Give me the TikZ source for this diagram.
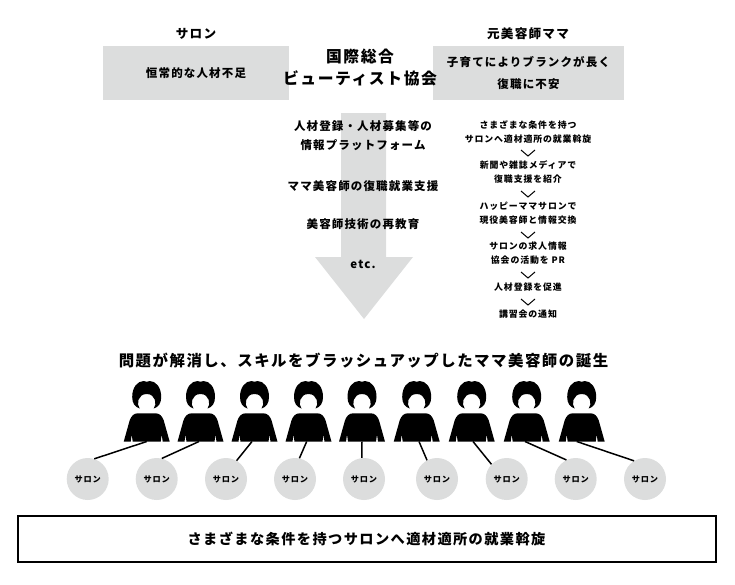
\documentclass[tikz,border=0pt]{standalone}
\usepackage{xcolor}
\usepackage{fontspec}
\setmainfont[LetterSpace=10]{Noto Sans CJK JP}
\definecolor{panelgray}{HTML}{DCDDDD}
\tikzset{
  txt/.style={inner sep=0pt,align=center,font=\bfseries\fontsize{11.5}{19}\selectfont},
  head/.style={inner sep=0pt,font=\bfseries\fontsize{12.6}{14}\selectfont},
  small/.style={inner sep=0pt,align=center,font=\bfseries\fontsize{8.9}{14}\selectfont},
  panel/.style={fill=panelgray,inner sep=0pt,align=center,font=\bfseries\fontsize{11.5}{22}\selectfont},
  salon/.style={circle,fill=panelgray,minimum size=42pt,inner sep=0pt,font=\bfseries\fontsize{8.2}{10}\selectfont},
}
\begin{document}
\begin{tikzpicture}[x=1pt,y=-1pt]
	\useasboundingbox (0,0) rectangle (735,584);
	% top row
	\node[panel,minimum width=186pt,minimum height=54pt] (shop) at (196,73) {恒常的な人材不足};
	\node[panel,minimum width=191pt,minimum height=54pt] (mother) at (528.5,73) {子育てによりブランクが長く\\復職に不安};
	\node[head] (shophead) at (196,34) {サロン};
	\node[head] (motherhead) at (528,34) {元美容師ママ};
	\node[inner sep=0pt,align=center,font=\bfseries\fontsize{15.8}{22}\selectfont] (assoc) at (360,67.5) {国際総合\\ビューティスト協会};
	% big arrow
	\fill[panelgray] (341,113) -- (386,113) -- (386,257) -- (413,257) -- (364,319) -- (315,257) -- (341,257) -- cycle;
	\node[txt] (platform) at (363,135.5) {人材登録・人材募集等の\\情報プラットフォーム};
	\node[txt] (support) at (363,186) {ママ美容師の復職就業支援};
	\node[txt] (training) at (363,224) {美容師技術の再教育};
	\node[txt] (etc) at (363,264) {etc.};
	% right column
	\node[small] (step1) at (528,132) {さまざまな条件を持つ\\サロンへ適材適所の就業斡旋};
	\node[small] (step2) at (528,172) {新聞や雑誌メディアで\\復職支援を紹介};
	\node[small] (step3) at (528,213) {ハッピーママサロンで\\現役美容師と情報交換};
	\node[small] (step4) at (528,253.5) {サロンの求人情報\\協会の活動を PR};
	\node[small] (step5) at (528,287) {人材登録を促進};
	\node[small] (step6) at (528,314) {講習会の通知};
	\foreach \y in {150,191,232,272,299}
		\draw[line width=1pt] (521,\y) -- (528,\y+6) -- (535,\y);
	% moms
	\node[inner sep=0pt,font=\bfseries\fontsize{15.4}{18}\selectfont] (title) at (363.5,361) {問題が解消し、スキルをブラッシュアップしたママ美容師の誕生};
	\foreach \x/\px [count=\i] in {146.7/146.7,200.5/199,254.5/252,308.5/306.7,362/362,416.7/419,471.7/473,526.7/525,581.7/576.7} {
		\begin{scope}[shift={(\x,381)}]
			\fill (-7,27.5) .. controls (-12,26) and (-14.5,22) .. (-14.5,16) .. controls (-14.5,6) and (-9,0) .. (-3,0)
				.. controls (-1.5,0) and (-1,0.8) .. (0,0.8) .. controls (1,0.8) and (1.5,0) .. (3,0)
				.. controls (9,0) and (14.5,6) .. (14.5,16) .. controls (14.5,22) and (12,26) .. (7,27.5)
				.. controls (10.5,23.5) and (9,13) .. (0,13) .. controls (-9,13) and (-10.5,23.5) .. (-7,27.5) -- cycle;
		\end{scope}
		\begin{scope}[shift={(\x,413.3)}]
			\fill (-9,0) -- (9,0) .. controls (13,0) and (15.5,3) .. (17,7) -- (23,28.4) -- (16,28.4) -- (15,21) -- (14,28.4)
				-- (-14,28.4) -- (-15,21) -- (-16,28.4) -- (-23,28.4) -- (-17,7) .. controls (-15.5,3) and (-13,0) .. (-9,0) -- cycle;
		\end{scope}
		\coordinate (mom\i) at (\px,441.5);
	}
	% salons
	\foreach \x/\a [count=\i] in {87.7/72,156.7/76,226/60,295/78,364/96,437/118,506.7/136,575.7/116,645/121} {
		\node[salon] (salon\i) at (\x,479) {サロン};
		\draw[line width=1.5pt] (mom\i) -- (salon\i.\a);
	}
	% bottom
	\node[draw,line width=2pt,minimum width=698pt,minimum height=46pt,inner sep=0pt,font=\bfseries\fontsize{14.2}{16}\selectfont] (footer) at (366.5,538.5) {さまざまな条件を持つサロンへ適材適所の就業斡旋};
\end{tikzpicture}
\end{document}
